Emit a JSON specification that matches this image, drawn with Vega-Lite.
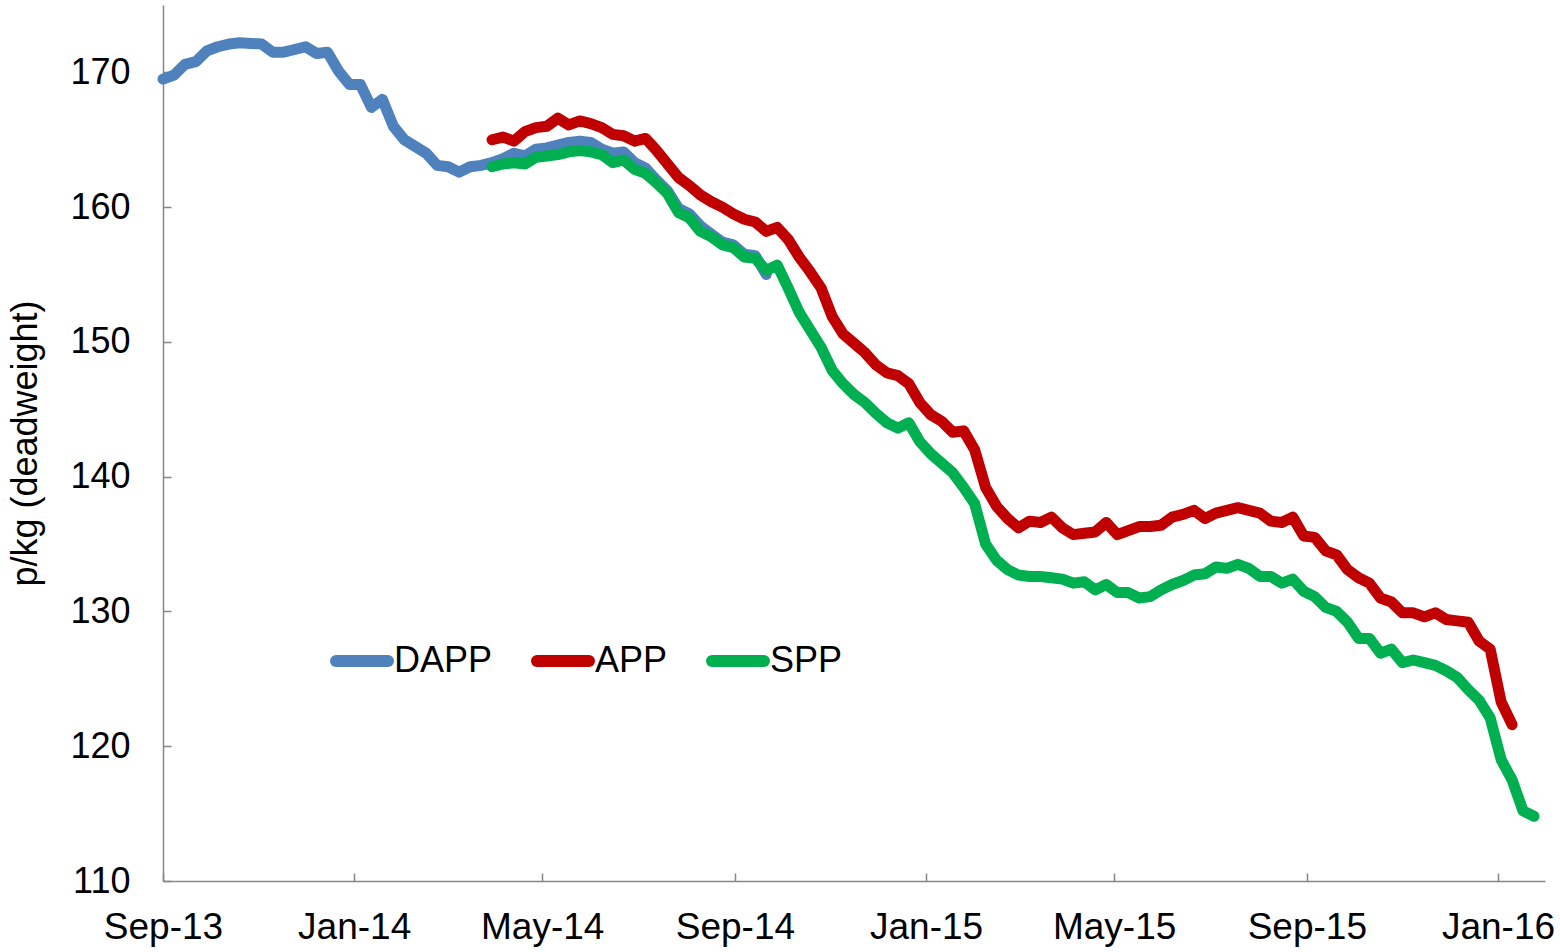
{
  "$schema": "https://vega.github.io/schema/vega-lite/v6.json",
  "width": 1382,
  "height": 876,
  "autosize": {"type": "none"},
  "padding": {"left": 163, "top": 5, "right": 15, "bottom": 71},
  "background": "white",
  "config": {"view": {"stroke": null}, "font": "Liberation Sans"},
  "data": {"values": [
    {"d": "2013-09-01", "DAPP": 169.5},
    {"d": "2013-09-08", "DAPP": 169.8},
    {"d": "2013-09-15", "DAPP": 170.6},
    {"d": "2013-09-22", "DAPP": 170.8},
    {"d": "2013-09-29", "DAPP": 171.6},
    {"d": "2013-10-06", "DAPP": 171.9},
    {"d": "2013-10-13", "DAPP": 172.1},
    {"d": "2013-10-20", "DAPP": 172.2},
    {"d": "2013-10-27", "DAPP": 172.15},
    {"d": "2013-11-03", "DAPP": 172.1},
    {"d": "2013-11-10", "DAPP": 171.5},
    {"d": "2013-11-17", "DAPP": 171.5},
    {"d": "2013-11-24", "DAPP": 171.7},
    {"d": "2013-12-01", "DAPP": 171.9},
    {"d": "2013-12-08", "DAPP": 171.4},
    {"d": "2013-12-15", "DAPP": 171.5},
    {"d": "2013-12-22", "DAPP": 170.1},
    {"d": "2013-12-29", "DAPP": 169.1},
    {"d": "2014-01-05", "DAPP": 169.1},
    {"d": "2014-01-12", "DAPP": 167.4},
    {"d": "2014-01-19", "DAPP": 168.0},
    {"d": "2014-01-26", "DAPP": 166.0},
    {"d": "2014-02-02", "DAPP": 165.0},
    {"d": "2014-02-09", "DAPP": 164.5},
    {"d": "2014-02-16", "DAPP": 164.0},
    {"d": "2014-02-23", "DAPP": 163.1},
    {"d": "2014-03-02", "DAPP": 163.0},
    {"d": "2014-03-09", "DAPP": 162.6},
    {"d": "2014-03-16", "DAPP": 163.0},
    {"d": "2014-03-23", "DAPP": 163.1},
    {"d": "2014-03-30", "DAPP": 163.3, "APP": 165.0, "SPP": 163.0},
    {"d": "2014-04-06", "DAPP": 163.6, "APP": 165.2, "SPP": 163.2},
    {"d": "2014-04-13", "DAPP": 164.0, "APP": 164.9, "SPP": 163.3},
    {"d": "2014-04-20", "DAPP": 163.8, "APP": 165.6, "SPP": 163.2},
    {"d": "2014-04-27", "DAPP": 164.3, "APP": 165.9, "SPP": 163.7},
    {"d": "2014-05-04", "DAPP": 164.4, "APP": 166.0, "SPP": 163.8},
    {"d": "2014-05-11", "DAPP": 164.6, "APP": 166.6, "SPP": 163.9},
    {"d": "2014-05-18", "DAPP": 164.8, "APP": 166.1, "SPP": 164.1},
    {"d": "2014-05-25", "DAPP": 164.9, "APP": 166.4, "SPP": 164.2},
    {"d": "2014-06-01", "DAPP": 164.8, "APP": 166.2, "SPP": 164.1},
    {"d": "2014-06-08", "DAPP": 164.3, "APP": 165.9, "SPP": 163.9},
    {"d": "2014-06-15", "DAPP": 164.0, "APP": 165.4, "SPP": 163.3},
    {"d": "2014-06-22", "DAPP": 164.1, "APP": 165.3, "SPP": 163.5},
    {"d": "2014-06-29", "DAPP": 163.3, "APP": 164.9, "SPP": 162.8},
    {"d": "2014-07-06", "DAPP": 162.9, "APP": 165.1, "SPP": 162.5},
    {"d": "2014-07-13", "DAPP": 162.0, "APP": 164.2, "SPP": 161.8},
    {"d": "2014-07-20", "DAPP": 161.2, "APP": 163.2, "SPP": 161.0},
    {"d": "2014-07-27", "DAPP": 159.9, "APP": 162.2, "SPP": 159.6},
    {"d": "2014-08-03", "DAPP": 159.5, "APP": 161.6, "SPP": 159.2},
    {"d": "2014-08-10", "DAPP": 158.6, "APP": 160.9, "SPP": 158.2},
    {"d": "2014-08-17", "DAPP": 158.0, "APP": 160.4, "SPP": 157.8},
    {"d": "2014-08-24", "DAPP": 157.4, "APP": 160.0, "SPP": 157.2},
    {"d": "2014-08-31", "DAPP": 157.2, "APP": 159.5, "SPP": 157.0},
    {"d": "2014-09-07", "DAPP": 156.5, "APP": 159.1, "SPP": 156.3},
    {"d": "2014-09-14", "DAPP": 156.4, "APP": 158.9, "SPP": 156.2},
    {"d": "2014-09-21", "DAPP": 155.0, "APP": 158.2, "SPP": 155.3},
    {"d": "2014-09-28", "APP": 158.5, "SPP": 155.7},
    {"d": "2014-10-05", "APP": 157.6, "SPP": 154.0},
    {"d": "2014-10-12", "APP": 156.3, "SPP": 152.2},
    {"d": "2014-10-19", "APP": 155.2, "SPP": 150.9},
    {"d": "2014-10-26", "APP": 154.0, "SPP": 149.6},
    {"d": "2014-11-02", "APP": 151.9, "SPP": 147.9},
    {"d": "2014-11-09", "APP": 150.6, "SPP": 146.9},
    {"d": "2014-11-16", "APP": 149.9, "SPP": 146.1},
    {"d": "2014-11-23", "APP": 149.2, "SPP": 145.5},
    {"d": "2014-11-30", "APP": 148.3, "SPP": 144.7},
    {"d": "2014-12-07", "APP": 147.7, "SPP": 144.0},
    {"d": "2014-12-14", "APP": 147.5, "SPP": 143.6},
    {"d": "2014-12-21", "APP": 146.9, "SPP": 144.0},
    {"d": "2014-12-28", "APP": 145.5, "SPP": 142.6},
    {"d": "2015-01-04", "APP": 144.6, "SPP": 141.7},
    {"d": "2015-01-11", "APP": 144.1, "SPP": 141.0},
    {"d": "2015-01-18", "APP": 143.3, "SPP": 140.3},
    {"d": "2015-01-25", "APP": 143.4, "SPP": 139.2},
    {"d": "2015-02-01", "APP": 142.0, "SPP": 138.0},
    {"d": "2015-02-08", "APP": 139.2, "SPP": 135.0},
    {"d": "2015-02-15", "APP": 137.8, "SPP": 133.8},
    {"d": "2015-02-22", "APP": 136.9, "SPP": 133.1},
    {"d": "2015-03-01", "APP": 136.2, "SPP": 132.7},
    {"d": "2015-03-08", "APP": 136.7, "SPP": 132.6},
    {"d": "2015-03-15", "APP": 136.6, "SPP": 132.6},
    {"d": "2015-03-22", "APP": 137.0, "SPP": 132.5},
    {"d": "2015-03-29", "APP": 136.2, "SPP": 132.4},
    {"d": "2015-04-05", "APP": 135.7, "SPP": 132.1},
    {"d": "2015-04-12", "APP": 135.8, "SPP": 132.2},
    {"d": "2015-04-19", "APP": 135.9, "SPP": 131.6},
    {"d": "2015-04-26", "APP": 136.6, "SPP": 132.0},
    {"d": "2015-05-03", "APP": 135.7, "SPP": 131.4},
    {"d": "2015-05-10", "APP": 136.0, "SPP": 131.4},
    {"d": "2015-05-17", "APP": 136.3, "SPP": 131.0},
    {"d": "2015-05-24", "APP": 136.3, "SPP": 131.1},
    {"d": "2015-05-31", "APP": 136.4, "SPP": 131.6},
    {"d": "2015-06-07", "APP": 137.0, "SPP": 132.0},
    {"d": "2015-06-14", "APP": 137.2, "SPP": 132.3},
    {"d": "2015-06-21", "APP": 137.5, "SPP": 132.7},
    {"d": "2015-06-28", "APP": 136.9, "SPP": 132.8},
    {"d": "2015-07-05", "APP": 137.3, "SPP": 133.3},
    {"d": "2015-07-12", "APP": 137.5, "SPP": 133.2},
    {"d": "2015-07-19", "APP": 137.7, "SPP": 133.5},
    {"d": "2015-07-26", "APP": 137.5, "SPP": 133.2},
    {"d": "2015-08-02", "APP": 137.3, "SPP": 132.6},
    {"d": "2015-08-09", "APP": 136.7, "SPP": 132.6},
    {"d": "2015-08-16", "APP": 136.6, "SPP": 132.1},
    {"d": "2015-08-23", "APP": 137.0, "SPP": 132.4},
    {"d": "2015-08-30", "APP": 135.6, "SPP": 131.5},
    {"d": "2015-09-06", "APP": 135.5, "SPP": 131.1},
    {"d": "2015-09-13", "APP": 134.5, "SPP": 130.3},
    {"d": "2015-09-20", "APP": 134.2, "SPP": 130.0},
    {"d": "2015-09-27", "APP": 133.1, "SPP": 129.2},
    {"d": "2015-10-04", "APP": 132.5, "SPP": 128.0},
    {"d": "2015-10-11", "APP": 132.1, "SPP": 128.0},
    {"d": "2015-10-18", "APP": 131.0, "SPP": 126.9},
    {"d": "2015-10-25", "APP": 130.7, "SPP": 127.2},
    {"d": "2015-11-01", "APP": 129.9, "SPP": 126.2},
    {"d": "2015-11-08", "APP": 129.9, "SPP": 126.4},
    {"d": "2015-11-15", "APP": 129.6, "SPP": 126.2},
    {"d": "2015-11-22", "APP": 129.9, "SPP": 126.0},
    {"d": "2015-11-29", "APP": 129.4, "SPP": 125.6},
    {"d": "2015-12-06", "APP": 129.3, "SPP": 125.1},
    {"d": "2015-12-13", "APP": 129.2, "SPP": 124.2},
    {"d": "2015-12-20", "APP": 127.8, "SPP": 123.4},
    {"d": "2015-12-27", "APP": 127.2, "SPP": 122.1},
    {"d": "2016-01-03", "APP": 123.3, "SPP": 119.0},
    {"d": "2016-01-10", "APP": 121.6, "SPP": 117.5},
    {"d": "2016-01-17", "SPP": 115.2},
    {"d": "2016-01-24", "SPP": 114.8}
  ]},
  "transform": [
    {"fold": ["DAPP", "APP", "SPP"], "as": ["series", "value"]},
    {"filter": "isValid(datum.value)"}
  ],
  "mark": {"type": "line", "strokeWidth": 11, "strokeCap": "round", "strokeJoin": "round"},
  "encoding": {
    "x": {
      "field": "d",
      "type": "temporal",
      "scale": {
        "type": "utc",
        "domain": [
          {"year": 2013, "month": 9, "date": 1, "utc": true},
          {"year": 2016, "month": 1, "date": 31, "utc": true}
        ]
      },
      "axis": {
        "values": [
          {"year": 2013, "month": 9, "date": 1, "utc": true},
          {"year": 2014, "month": 1, "date": 1, "utc": true},
          {"year": 2014, "month": 5, "date": 1, "utc": true},
          {"year": 2014, "month": 9, "date": 1, "utc": true},
          {"year": 2015, "month": 1, "date": 1, "utc": true},
          {"year": 2015, "month": 5, "date": 1, "utc": true},
          {"year": 2015, "month": 9, "date": 1, "utc": true},
          {"year": 2016, "month": 1, "date": 1, "utc": true}
        ],
        "format": "%b-%y",
        "title": null,
        "grid": false,
        "domainColor": "#868686",
        "domainWidth": 1.5,
        "tickColor": "#868686",
        "tickWidth": 1.5,
        "tickSize": -8,
        "labelFont": "Liberation Sans",
        "labelFontSize": 37,
        "labelColor": "black",
        "labelPadding": 36,
        "labelFlush": false,
        "labelOverlap": false
      }
    },
    "y": {
      "field": "value",
      "type": "quantitative",
      "scale": {"domain": [110, 175], "nice": false, "zero": false},
      "axis": {
        "values": [110, 120, 130, 140, 150, 160, 170],
        "title": "p/kg (deadweight)",
        "titleFont": "Liberation Sans",
        "titleFontSize": 36,
        "titleFontWeight": "normal",
        "titleColor": "black",
        "titlePadding": 25,
        "grid": false,
        "domainColor": "#868686",
        "domainWidth": 1.5,
        "tickColor": "#868686",
        "tickWidth": 1.5,
        "tickSize": -8,
        "labelFont": "Liberation Sans",
        "labelFontSize": 36,
        "labelColor": "black",
        "labelPadding": 41,
        "labelOverlap": false
      }
    },
    "color": {
      "field": "series",
      "type": "nominal",
      "scale": {"domain": ["DAPP", "APP", "SPP"], "range": ["#4F81BD", "#C00000", "#00B050"]},
      "legend": {
        "orient": "none",
        "legendX": 167,
        "legendY": 624,
        "direction": "horizontal",
        "title": null,
        "symbolType": "stroke",
        "symbolSize": 2704,
        "symbolStrokeWidth": 12,
        "labelFont": "Liberation Sans",
        "labelFontSize": 36,
        "labelColor": "black",
        "labelOffset": 0,
        "columnPadding": 20,
        "padding": 0,
        "encode": {"symbols": {"update": {"strokeCap": {"value": "round"}}}}
      }
    }
  }
}
